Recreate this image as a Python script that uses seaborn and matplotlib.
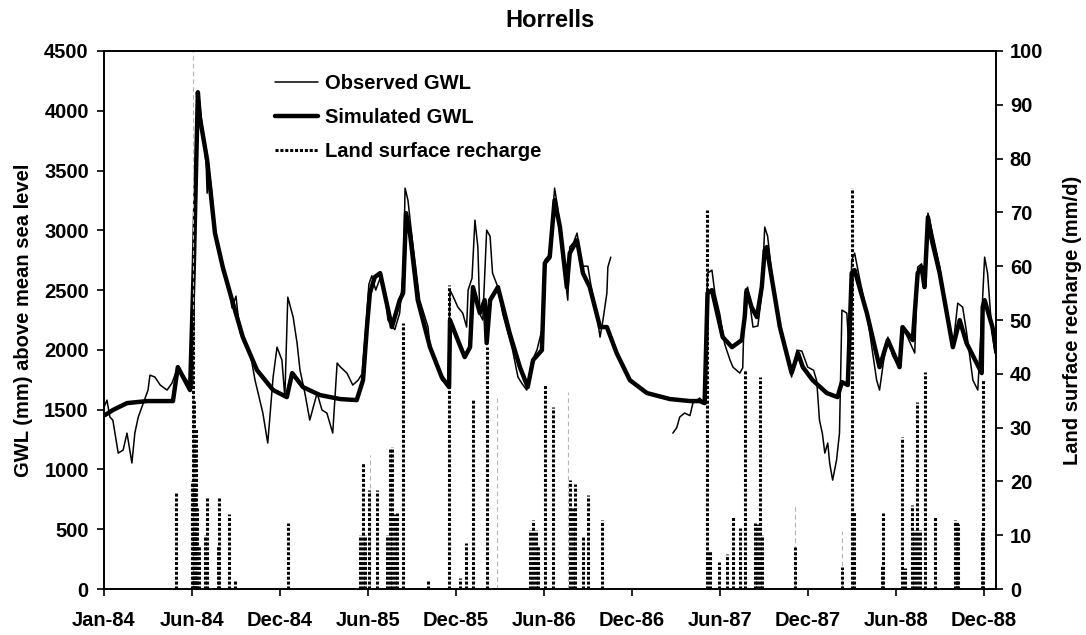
import matplotlib
matplotlib.use("Agg")
import matplotlib.pyplot as plt
import matplotlib.dates as mdates
from matplotlib.lines import Line2D
import seaborn as sns
import pandas as pd

# all days are counted from 1 Jan 1984
START = pd.Timestamp("1984-01-01")

# simulated groundwater level (mm above mean sea level)
sim_day = [2, 18, 47, 88, 141, 151, 176, 184, 192, 196, 211, 217, 227, 243, 262, 284,
           313, 346, 374, 385, 407, 442, 483, 517, 530, 538, 544, 554, 565, 589, 605,
           612, 618, 626, 642, 667, 691, 706, 708, 724, 738, 749, 755, 769, 779, 783,
           790, 806, 830, 851, 867, 878, 896, 902, 912, 922, 933, 947, 953, 968, 980,
           994, 1015, 1029, 1049, 1076, 1111, 1158, 1199, 1219, 1229, 1235, 1244, 1266,
           1285, 1305, 1311, 1315, 1325, 1336, 1346, 1352, 1356, 1366, 1383, 1407, 1420,
           1430, 1450, 1479, 1501, 1510, 1522, 1530, 1536, 1561, 1587, 1604, 1628, 1634,
           1655, 1665, 1673, 1679, 1686, 1694, 1710, 1737, 1751, 1765, 1796, 1798, 1802,
           1818, 1825]
sim_gwl = [1455, 1497, 1555, 1572, 1572, 1856, 1664, 2750, 4155, 3946, 3587, 3361, 2977,
           2692, 2416, 2107, 1831, 1664, 1605, 1806, 1689, 1622, 1589, 1580, 1747, 2191,
           2475, 2609, 2642, 2191, 2416, 2475, 3144, 2977, 2416, 2023, 1773, 1689, 2249,
           2082, 1940, 2023, 2525, 2308, 2416, 2057, 2416, 2525, 2140, 1856, 1689, 1915,
           1998, 2726, 2776, 3253, 3027, 2525, 2809, 2918, 2642, 2525, 2191, 2191, 1973,
           1747, 1639, 1589, 1572, 1572, 1555, 2475, 2500, 2107, 2023, 2082, 2274, 2500,
           2358, 2274, 2525, 2834, 2860, 2609, 2191, 1806, 1973, 1856, 1747, 1639, 1605,
           1731, 1706, 2642, 2667, 2308, 1856, 2082, 1856, 2191, 2082, 2642, 2692, 2525,
           3110, 2918, 2642, 2023, 2249, 2057, 1806, 2358, 2416, 2191, 2015]

# observed groundwater level, two records separated by a gap
obs_day_a = [0, 6, 12, 18, 29, 39, 47, 57, 63, 70, 90, 94, 104, 115, 129, 139, 151, 176,
             182, 186, 190, 194, 203, 209, 211, 215, 221, 227, 237, 243, 254, 262, 270,
             278, 288, 299, 309, 325, 335, 346, 354, 364, 370, 376, 387, 395, 401, 411,
             421, 436, 446, 456, 468, 477, 483, 497, 509, 520, 528, 536, 542, 548, 556,
             565, 575, 581, 595, 605, 613, 616, 622, 630, 646, 663, 667, 681, 691, 704,
             708, 714, 724, 734, 742, 745, 753, 759, 765, 769, 775, 783, 790, 795, 806,
             816, 836, 847, 855, 865, 875, 886, 898, 902, 912, 922, 928, 939, 949, 953,
             961, 968, 978, 990, 998, 1008, 1015, 1021, 1029, 1031, 1037]
obs_gwl_a = [1522, 1580, 1438, 1413, 1137, 1162, 1304, 1054, 1304, 1438, 1664, 1789, 1773,
             1706, 1664, 1722, 1856, 1706, 1690, 3000, 4100, 4120, 3800, 3550, 3311, 3500,
             3300, 2950, 2800, 2650, 2550, 2350, 2450, 2150, 2050, 1973, 1747, 1472, 1221,
             1773, 2023, 1915, 1605, 2441, 2274, 2057, 1831, 1639, 1413, 1639, 1497, 1472,
             1304, 1890, 1860, 1806, 1706, 1747, 1800, 2200, 2550, 2620, 2500, 2600, 2450,
             2250, 2170, 2308, 2700, 3353, 3250, 2950, 2416, 2191, 2023, 1900, 1747, 1706,
             2500, 2450, 2358, 2308, 2191, 2500, 2600, 3085, 2860, 2300, 2250, 3002, 2950,
             2642, 2525, 2300, 1998, 1773, 1720, 1664, 1900, 2000, 2200, 2751, 2800, 3353,
             3200, 2751, 2416, 2860, 2900, 2977, 2700, 2700, 2500, 2300, 2107, 2249, 2475,
             2692, 2776]
obs_day_b = [1164, 1172, 1178, 1188, 1199, 1205, 1219, 1229, 1235, 1244, 1250, 1260, 1270,
             1281, 1287, 1301, 1307, 1311, 1317, 1328, 1338, 1346, 1352, 1358, 1366, 1383,
             1395, 1407, 1418, 1428, 1440, 1452, 1458, 1460, 1464, 1470, 1475, 1481, 1485,
             1491, 1499, 1505, 1510, 1520, 1526, 1530, 1536, 1546, 1561, 1581, 1587, 1595,
             1604, 1614, 1628, 1634, 1645, 1659, 1665, 1673, 1679, 1686, 1694, 1710, 1725,
             1737, 1747, 1757, 1765, 1778, 1788, 1796, 1802, 1808, 1816, 1823]
obs_gwl_b = [1304, 1350, 1438, 1472, 1450, 1555, 1597, 1555, 2642, 2667, 2475, 2300, 2050,
             1915, 1856, 1806, 1850, 2475, 2525, 2191, 2200, 2475, 3027, 2950, 2650, 2200,
             2000, 1773, 1998, 1990, 1856, 1830, 1747, 1650, 1413, 1300, 1137, 1221, 1050,
             911, 1079, 1304, 2333, 2308, 1900, 2751, 2809, 2600, 2308, 1747, 1664, 1900,
             2107, 1950, 1856, 2191, 2100, 1973, 2692, 2720, 2525, 3144, 3000, 2700, 2300,
             2023, 2391, 2358, 2150, 1747, 1664, 2274, 2776, 2642, 2200, 1973]

# land surface recharge (mm/d)
rech_day = [147, 180, 182, 184, 186, 188, 190, 194, 207, 211, 233, 235, 256, 268, 376,
            524, 530, 534, 542, 558, 579, 585, 589, 595, 599, 612, 663, 706, 728, 740,
            755, 783, 871, 878, 884, 888, 902, 918, 953, 959, 963, 980, 990, 1019, 1233,
            1240, 1258, 1274, 1287, 1301, 1311, 1332, 1336, 1342, 1346, 1413, 1510, 1530,
            1534, 1591, 1594, 1632, 1640, 1653, 1657, 1663, 1669, 1681, 1700, 1741, 1745,
            1747, 1796, 1798]
rech_mm = [18, 20, 52, 35, 25, 30, 15, 8, 10, 17, 8, 17, 14, 1.5, 12.3, 10, 23.4, 10,
           18.4, 18.4, 10, 26, 26.4, 14, 14.1, 49.4, 1.7, 56.5, 2, 8.5, 35.1, 45, 11,
           12.8, 11, 8, 37.9, 33.8, 20.3, 15, 19.6, 9.7, 17.5, 12.8, 70.4, 7.2, 5, 6.6,
           13.4, 11.3, 40.7, 12.3, 12, 39.4, 10, 7.8, 4.1, 74.5, 14.3, 4.4, 14.1, 28.3,
           4, 15.6, 11, 34.8, 11, 40.3, 13.4, 12.8, 12.5, 12, 11, 38.8]
# single-day spikes that print faint
rech_faint_day = [182, 544, 804, 949, 1413, 1510]
rech_faint_mm = [100, 25, 35.7, 36.6, 15.6, 10.8]


def to_dates(days):
    return START + pd.to_timedelta(days, unit="D")


sns.set_style("ticks")
plt.rcParams["font.family"] = ["Liberation Sans", "DejaVu Sans"]
plt.rcParams["font.weight"] = "bold"
plt.rcParams["axes.labelweight"] = "bold"
plt.rcParams["axes.titleweight"] = "bold"
plt.rcParams["axes.edgecolor"] = "black"
plt.rcParams["text.color"] = "black"
plt.rcParams["axes.labelcolor"] = "black"
plt.rcParams["xtick.color"] = "black"
plt.rcParams["ytick.color"] = "black"

fig, ax = plt.subplots(figsize=(10.86, 6.35), dpi=100)
fig.subplots_adjust(left=0.0958, right=0.917, bottom=0.0724, top=0.9197)

sim = pd.DataFrame({"date": to_dates(sim_day), "gwl": sim_gwl})
obs = pd.concat([
    pd.DataFrame({"date": to_dates(obs_day_a), "gwl": obs_gwl_a, "segment": "a"}),
    pd.DataFrame({"date": to_dates(obs_day_b), "gwl": obs_gwl_b, "segment": "b"}),
])

sns.lineplot(data=sim, x="date", y="gwl", color="black", lw=3.2, ax=ax, legend=False)
sns.lineplot(data=obs, x="date", y="gwl", units="segment", estimator=None,
             color="black", lw=1.1, ax=ax, legend=False)

ax2 = ax.twinx()
ax2.vlines(to_dates(rech_faint_day), 0, rech_faint_mm, colors="#b5b5b5", lw=0.8,
           linestyles=[(0, (4, 3))])
ax2.vlines(to_dates(rech_day), 0, rech_mm, colors="black", lw=2.2,
           linestyles=[(0, (1.0, 0.6))])

ax.set_xlim(START, START + pd.Timedelta(days=1825))
ax.set_ylim(0, 4500)
ax2.set_ylim(0, 100)
ax.set_xticks(pd.date_range(START, periods=11, freq="180D"))
ax.xaxis.set_major_formatter(mdates.DateFormatter("%b-%y"))
ax.set_yticks(range(0, 4501, 500))
ax2.set_yticks(range(0, 101, 10))

ax.set_xlabel("")
ax.set_ylabel("GWL (mm) above mean sea level", fontsize=14.5, labelpad=8)
ax2.set_ylabel("Land surface recharge (mm/d)", fontsize=14.5, labelpad=14)
ax.set_title("Horrells", fontsize=17, pad=17)

for a in (ax, ax2):
    a.tick_params(direction="out", length=5, width=1.2, labelsize=14.5)
    for s in a.spines.values():
        s.set_linewidth(1.2)
        s.set_color("black")
ax.tick_params(axis="x", pad=11)
ax.tick_params(axis="y", pad=6)
ax2.tick_params(axis="y", pad=5)

handles = [
    Line2D([], [], color="black", lw=1.1),
    Line2D([], [], color="black", lw=3.2),
    Line2D([], [], color="black", lw=2.2, linestyle=(0, (1.0, 0.6))),
]
labels = ["Observed GWL", "Simulated GWL", "Land surface recharge"]
ax2.legend(handles, labels, loc="upper left", bbox_to_anchor=(0.192, 0.958),
           frameon=False, fontsize=14.5, handlelength=2.1, handletextpad=0.35,
           labelspacing=0.75, borderpad=0, borderaxespad=0)

fig.savefig("out.png", dpi=100)
